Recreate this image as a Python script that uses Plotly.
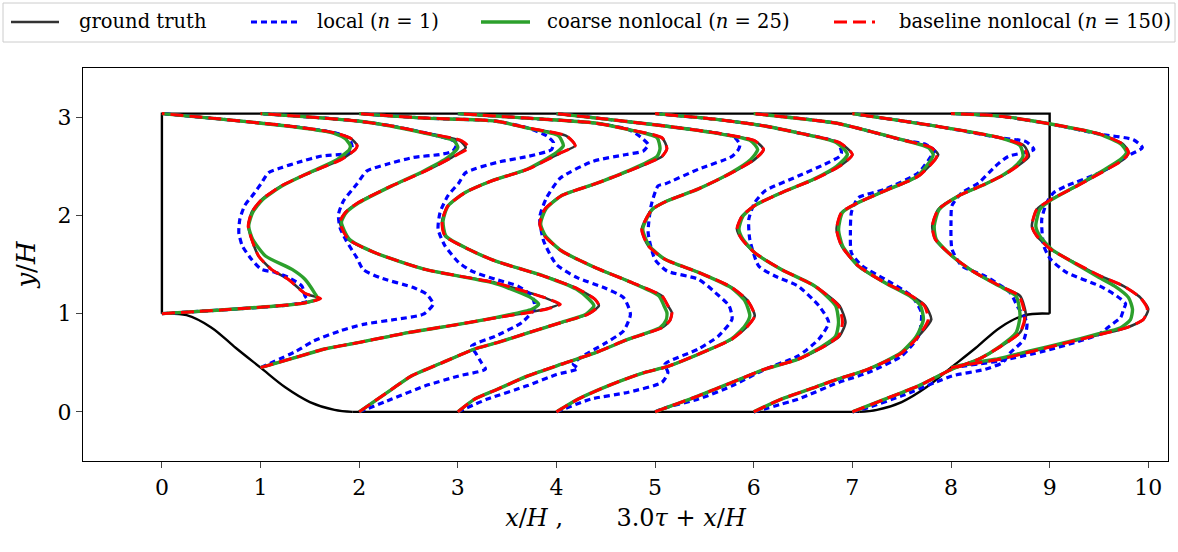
import plotly.graph_objects as go
import numpy as np

# ---------------- data ----------------
stations = [0, 1, 2, 3, 4, 5, 6, 7, 8]
top_y = 3.036
hill_x = [0.0, 0.25, 0.5, 0.75, 1.0, 1.25, 1.5, 1.75, 1.93]
hill_y = [1.0, 0.985, 0.86, 0.65, 0.45, 0.25, 0.10, 0.02, 0.0]

# y/H sample heights shared by ground truth, coarse and baseline profiles
profile_y = [
    [1.0, 1.037, 1.088, 1.11, 1.153, 1.207, 1.35, 1.45, 1.587, 1.757, 1.89, 2.03, 2.16, 2.30, 2.40, 2.47, 2.57, 2.67, 2.71, 2.78, 2.83, 2.86, 2.91, 2.98, 3.036],
    [0.45, 0.55, 0.64, 0.705, 0.807, 0.89, 0.96, 1.045, 1.095, 1.163, 1.265, 1.315, 1.45, 1.62, 1.757, 1.93, 2.03, 2.13, 2.30, 2.45, 2.59, 2.69, 2.76, 2.84, 2.91, 2.96, 2.99, 3.036],
    [0.0, 0.23, 0.366, 0.50, 0.64, 0.705, 0.807, 0.91, 0.994, 1.08, 1.146, 1.25, 1.38, 1.536, 1.65, 1.79, 1.94, 2.096, 2.23, 2.35, 2.47, 2.64, 2.71, 2.81, 2.89, 2.96, 2.99, 3.036],
    [0.0, 0.13, 0.23, 0.366, 0.485, 0.60, 0.74, 0.857, 0.93, 1.01, 1.08, 1.18, 1.33, 1.47, 1.64, 1.79, 1.91, 2.06, 2.20, 2.32, 2.45, 2.60, 2.68, 2.79, 2.875, 2.94, 2.99, 3.036],
    [0.0, 0.13, 0.28, 0.40, 0.46, 0.587, 0.74, 0.875, 0.977, 1.13, 1.265, 1.42, 1.553, 1.69, 1.86, 2.06, 2.146, 2.27, 2.435, 2.57, 2.67, 2.76, 2.84, 2.91, 2.98, 3.036],
    [0.0, 0.03, 0.163, 0.30, 0.434, 0.536, 0.67, 0.77, 0.91, 1.08, 1.28, 1.45, 1.62, 1.757, 1.86, 1.99, 2.10, 2.23, 2.37, 2.50, 2.62, 2.74, 2.84, 2.91, 2.98, 3.036],
    [0.0, 0.13, 0.25, 0.333, 0.434, 0.60, 0.77, 0.94, 1.08, 1.18, 1.315, 1.485, 1.69, 1.86, 2.03, 2.13, 2.25, 2.40, 2.57, 2.62, 2.69, 2.77, 2.86, 2.94, 3.036],
    [0.0, 0.13, 0.265, 0.434, 0.536, 0.67, 0.807, 0.977, 1.18, 1.28, 1.42, 1.587, 1.757, 1.89, 2.06, 2.20, 2.32, 2.42, 2.50, 2.60, 2.71, 2.79, 2.91, 3.036],
    [0.45, 0.50, 0.536, 0.62, 0.705, 0.79, 0.857, 0.94, 1.045, 1.163, 1.28, 1.38, 1.52, 1.655, 1.79, 1.89, 2.06, 2.16, 2.30, 2.45, 2.57, 2.64, 2.72, 2.825, 2.93, 3.01, 3.036],
]

# 3.0*tau values (profile offset from the station)
truth_3tau = [
    [0, 0.6, 1.28, 1.45, 1.60, 1.45, 1.28, 1.11, 0.98, 0.91, 0.875, 0.91, 1.01, 1.21, 1.42, 1.585, 1.82, 1.96, 1.98, 1.92, 1.79, 1.65, 1.28, 0.6, 0],
    [0, 0.34, 0.65, 0.99, 1.50, 2.0, 2.4, 2.88, 3.02, 2.88, 2.55, 2.38, 1.67, 1.16, 0.89, 0.805, 0.86, 0.99, 1.33, 1.67, 1.94, 2.08, 2.02, 1.67, 1.33, 0.99, 0.65, 0],
    [0, 0.33, 0.53, 0.84, 1.17, 1.40, 1.72, 2.05, 2.32, 2.43, 2.39, 2.22, 1.88, 1.38, 1.12, 0.87, 0.84, 0.90, 1.07, 1.34, 1.71, 2.05, 2.19, 2.10, 1.71, 1.38, 0.67, 0],
    [0, 0.17, 0.40, 0.71, 1.05, 1.39, 1.73, 2.07, 2.15, 2.17, 2.13, 2.07, 1.73, 1.39, 1.05, 0.88, 0.83, 0.88, 1.05, 1.39, 1.73, 2.07, 2.12, 2.07, 1.73, 1.39, 0.7, 0],
    [0, 0.22, 0.56, 0.89, 1.12, 1.44, 1.78, 1.94, 2.01, 1.94, 1.78, 1.44, 1.10, 0.93, 0.865, 0.97, 1.12, 1.44, 1.78, 2.01, 2.10, 2.01, 1.61, 1.10, 0.5, 0],
    [0, 0.08, 0.44, 0.78, 1.11, 1.45, 1.72, 1.87, 1.93, 1.87, 1.62, 1.28, 1.01, 0.88, 0.83, 0.88, 1.01, 1.28, 1.62, 1.87, 2.0, 1.87, 1.45, 1.11, 0.6, 0],
    [0, 0.28, 0.62, 0.85, 1.16, 1.50, 1.67, 1.80, 1.74, 1.60, 1.33, 1.06, 0.89, 0.84, 0.89, 1.06, 1.33, 1.67, 1.84, 1.87, 1.80, 1.50, 1.16, 0.83, 0],
    [0, 0.33, 0.67, 1.01, 1.28, 1.51, 1.70, 1.76, 1.70, 1.50, 1.24, 1.01, 0.84, 0.81, 0.87, 1.08, 1.35, 1.55, 1.67, 1.79, 1.74, 1.50, 0.84, 0],
    [0, 0.28, 0.50, 0.84, 1.18, 1.52, 1.78, 1.95, 2.0, 1.92, 1.75, 1.52, 1.25, 1.01, 0.87, 0.82, 0.87, 1.01, 1.28, 1.55, 1.75, 1.80, 1.75, 1.52, 1.01, 0.5, 0],
]

baseline_3tau = [
    [0, 0.6, 1.28, 1.46, 1.61, 1.45, 1.28, 1.11, 0.98, 0.91, 0.875, 0.91, 1.01, 1.21, 1.42, 1.585, 1.82, 1.96, 1.98, 1.92, 1.79, 1.65, 1.28, 0.6, 0],
    [0, 0.34, 0.65, 0.99, 1.50, 2.0, 2.4, 2.90, 3.04, 2.88, 2.55, 2.38, 1.67, 1.16, 0.89, 0.805, 0.86, 0.99, 1.33, 1.67, 1.94, 2.11, 2.04, 1.67, 1.33, 0.99, 0.65, 0],
    [0, 0.33, 0.53, 0.84, 1.17, 1.40, 1.72, 2.05, 2.32, 2.43, 2.39, 2.22, 1.88, 1.38, 1.12, 0.87, 0.84, 0.90, 1.07, 1.34, 1.71, 2.05, 2.19, 2.10, 1.71, 1.38, 0.67, 0],
    [0, 0.17, 0.40, 0.71, 1.05, 1.39, 1.73, 2.07, 2.15, 2.17, 2.13, 2.07, 1.73, 1.39, 1.05, 0.88, 0.83, 0.88, 1.05, 1.39, 1.73, 2.07, 2.12, 2.07, 1.73, 1.39, 0.7, 0],
    [0, 0.22, 0.56, 0.89, 1.12, 1.44, 1.78, 1.94, 2.01, 1.94, 1.78, 1.44, 1.10, 0.93, 0.865, 0.97, 1.12, 1.44, 1.78, 2.01, 2.10, 2.01, 1.61, 1.10, 0.5, 0],
    [0, 0.08, 0.44, 0.78, 1.11, 1.45, 1.72, 1.86, 1.90, 1.86, 1.62, 1.28, 1.01, 0.88, 0.83, 0.88, 1.01, 1.28, 1.62, 1.87, 2.0, 1.87, 1.45, 1.11, 0.6, 0],
    [0, 0.28, 0.62, 0.85, 1.16, 1.50, 1.67, 1.77, 1.73, 1.60, 1.33, 1.06, 0.89, 0.84, 0.89, 1.06, 1.33, 1.67, 1.84, 1.86, 1.80, 1.50, 1.16, 0.83, 0],
    [0, 0.33, 0.67, 1.01, 1.28, 1.51, 1.70, 1.75, 1.69, 1.50, 1.24, 1.01, 0.84, 0.81, 0.87, 1.08, 1.35, 1.55, 1.67, 1.77, 1.73, 1.50, 0.84, 0],
    [0, 0.28, 0.50, 0.84, 1.18, 1.52, 1.78, 1.95, 1.99, 1.92, 1.75, 1.52, 1.25, 1.01, 0.87, 0.82, 0.87, 1.01, 1.28, 1.55, 1.75, 1.80, 1.75, 1.52, 1.01, 0.5, 0],
]

coarse_3tau = [
    [0, 0.6, 1.28, 1.45, 1.58, 1.55, 1.45, 1.32, 1.05, 0.92, 0.88, 0.92, 1.02, 1.22, 1.42, 1.57, 1.78, 1.90, 1.91, 1.86, 1.76, 1.63, 1.27, 0.6, 0],
    [0, 0.34, 0.65, 0.99, 1.50, 2.0, 2.38, 2.75, 2.82, 2.74, 2.50, 2.35, 1.67, 1.16, 0.90, 0.82, 0.87, 1.0, 1.33, 1.65, 1.90, 2.0, 1.96, 1.65, 1.32, 0.99, 0.65, 0],
    [0, 0.33, 0.53, 0.84, 1.17, 1.40, 1.72, 2.05, 2.30, 2.38, 2.33, 2.20, 1.88, 1.38, 1.12, 0.88, 0.85, 0.90, 1.07, 1.34, 1.70, 2.0, 2.07, 2.02, 1.70, 1.38, 0.67, 0],
    [0, 0.17, 0.40, 0.71, 1.05, 1.39, 1.73, 2.05, 2.11, 2.12, 2.09, 2.04, 1.73, 1.39, 1.05, 0.89, 0.84, 0.89, 1.05, 1.39, 1.72, 2.02, 2.05, 2.02, 1.72, 1.39, 0.7, 0],
    [0, 0.22, 0.56, 0.89, 1.12, 1.44, 1.77, 1.91, 1.96, 1.91, 1.77, 1.44, 1.10, 0.94, 0.875, 0.97, 1.12, 1.44, 1.77, 1.97, 2.04, 1.97, 1.60, 1.10, 0.5, 0],
    [0, 0.08, 0.44, 0.78, 1.11, 1.45, 1.70, 1.83, 1.86, 1.83, 1.62, 1.28, 1.01, 0.89, 0.85, 0.89, 1.01, 1.28, 1.61, 1.84, 1.95, 1.84, 1.45, 1.11, 0.6, 0],
    [0, 0.28, 0.62, 0.85, 1.16, 1.49, 1.65, 1.72, 1.69, 1.58, 1.33, 1.06, 0.90, 0.86, 0.90, 1.06, 1.33, 1.66, 1.80, 1.82, 1.77, 1.50, 1.16, 0.83, 0],
    [0, 0.33, 0.67, 1.01, 1.28, 1.50, 1.66, 1.70, 1.66, 1.49, 1.24, 1.01, 0.85, 0.83, 0.88, 1.08, 1.35, 1.54, 1.65, 1.73, 1.70, 1.50, 0.84, 0],
    [0, 0.22, 0.45, 0.80, 1.15, 1.48, 1.72, 1.82, 1.84, 1.80, 1.66, 1.48, 1.24, 1.02, 0.90, 0.86, 0.90, 1.02, 1.27, 1.53, 1.72, 1.78, 1.73, 1.51, 1.01, 0.5, 0],
]

# local (n = 1) model has its own sample heights
local_y = [
    [1.0, 1.037, 1.088, 1.13, 1.18, 1.28, 1.37, 1.42, 1.45, 1.55, 1.69, 1.82, 1.96, 2.10, 2.23, 2.33, 2.435, 2.485, 2.54, 2.604, 2.63, 2.68, 2.78, 2.83, 2.86, 2.91, 2.98, 3.036],
    [0.45, 0.62, 0.72, 0.824, 0.89, 0.943, 0.994, 1.096, 1.197, 1.265, 1.366, 1.45, 1.57, 1.74, 1.875, 2.01, 2.146, 2.316, 2.45, 2.52, 2.59, 2.62, 2.655, 2.74, 2.84, 2.91, 2.96, 2.99, 3.036],
    [0.0, 0.13, 0.265, 0.366, 0.434, 0.50, 0.60, 0.67, 0.77, 0.91, 1.06, 1.18, 1.28, 1.35, 1.434, 1.52, 1.69, 1.86, 2.03, 2.20, 2.33, 2.435, 2.54, 2.60, 2.67, 2.74, 2.81, 2.89, 2.96, 2.99, 3.036],
    [0.0, 0.13, 0.265, 0.38, 0.44, 0.485, 0.57, 0.69, 0.824, 0.994, 1.163, 1.265, 1.366, 1.50, 1.74, 1.98, 2.18, 2.38, 2.55, 2.62, 2.655, 2.72, 2.80, 2.875, 2.94, 2.99, 3.036],
    [0.0, 0.13, 0.20, 0.30, 0.40, 0.485, 0.64, 0.77, 0.943, 1.08, 1.214, 1.35, 1.434, 1.55, 1.82, 2.10, 2.30, 2.32, 2.47, 2.60, 2.67, 2.72, 2.80, 2.84, 2.91, 2.98, 3.036],
    [0.0, 0.04, 0.13, 0.265, 0.434, 0.57, 0.74, 0.91, 1.08, 1.28, 1.38, 1.485, 1.757, 1.96, 2.13, 2.25, 2.40, 2.52, 2.60, 2.64, 2.74, 2.84, 2.91, 2.98, 3.036],
    [0.0, 0.13, 0.30, 0.40, 0.57, 0.77, 1.01, 1.18, 1.35, 1.485, 1.62, 1.82, 2.03, 2.18, 2.265, 2.435, 2.62, 2.66, 2.72, 2.77, 2.86, 2.94, 3.036],
    [0.0, 0.044, 0.163, 0.30, 0.366, 0.434, 0.50, 0.60, 0.74, 0.91, 1.08, 1.214, 1.38, 1.485, 1.655, 1.93, 2.10, 2.23, 2.33, 2.50, 2.60, 2.67, 2.75, 2.79, 2.91, 3.036],
    [0.45, 0.52, 0.62, 0.705, 0.79, 0.875, 0.96, 1.045, 1.10, 1.18, 1.28, 1.42, 1.553, 1.69, 1.96, 2.13, 2.23, 2.30, 2.435, 2.60, 2.69, 2.77, 2.825, 2.93, 3.01, 3.036],
]
local_3tau = [
    [0, 0.6, 1.28, 1.48, 1.45, 1.42, 1.28, 1.15, 1.01, 0.91, 0.815, 0.78, 0.79, 0.84, 0.94, 1.01, 1.08, 1.21, 1.383, 1.62, 1.87, 1.93, 1.90, 1.79, 1.65, 1.28, 0.6, 0],
    [0, 0.366, 0.535, 0.805, 1.04, 1.38, 1.65, 1.75, 1.685, 1.55, 1.21, 1.04, 0.975, 0.87, 0.805, 0.79, 0.84, 0.975, 1.076, 1.28, 1.55, 1.82, 1.95, 1.99, 1.67, 1.33, 0.99, 0.65, 0],
    [0, 0.33, 0.67, 1.01, 1.28, 1.24, 1.18, 1.14, 1.38, 1.65, 1.78, 1.75, 1.61, 1.38, 1.14, 1.01, 0.87, 0.80, 0.82, 0.90, 1.01, 1.08, 1.40, 1.71, 1.95, 1.97, 1.90, 1.71, 1.38, 0.67, 0],
    [0, 0.30, 0.70, 1.0, 1.22, 1.17, 1.27, 1.48, 1.68, 1.75, 1.68, 1.48, 1.21, 1.0, 0.87, 0.83, 0.90, 1.04, 1.37, 1.71, 1.88, 1.93, 1.85, 1.73, 1.39, 0.7, 0],
    [0, 0.35, 0.73, 1.07, 1.13, 1.10, 1.44, 1.64, 1.78, 1.75, 1.61, 1.44, 1.12, 1.0, 0.93, 0.96, 1.03, 1.10, 1.44, 1.78, 1.845, 1.86, 1.80, 1.61, 1.10, 0.5, 0],
    [0, 0.10, 0.44, 0.78, 1.116, 1.45, 1.66, 1.76, 1.66, 1.45, 1.22, 1.05, 0.96, 0.95, 1.01, 1.116, 1.45, 1.72, 1.87, 1.89, 1.85, 1.45, 1.11, 0.6, 0],
    [0, 0.45, 0.86, 1.16, 1.50, 1.67, 1.70, 1.60, 1.33, 1.10, 0.99, 0.98, 0.99, 1.06, 1.33, 1.67, 1.81, 1.83, 1.75, 1.50, 1.16, 0.83, 0],
    [0, 0.16, 0.50, 0.84, 1.01, 1.35, 1.52, 1.60, 1.74, 1.77, 1.67, 1.60, 1.35, 1.11, 1.01, 1.0, 1.01, 1.11, 1.28, 1.45, 1.58, 1.84, 1.76, 1.50, 0.84, 0],
    [0, 0.5, 0.95, 1.25, 1.50, 1.61, 1.72, 1.75, 1.77, 1.68, 1.51, 1.17, 1.01, 0.94, 0.92, 0.97, 1.04, 1.17, 1.51, 1.78, 1.94, 1.85, 1.52, 1.01, 0.5, 0],
]

legend_names = ["ground truth", "local (<i>n</i> = 1)",
                "coarse nonlocal (<i>n</i> = 25)", "baseline nonlocal (<i>n</i> = 150)"]
x_ticks = list(range(0, 11))
y_ticks = [0, 1, 2, 3]

# ---------------- figure ----------------
W, H = 1178, 552
ML, MR, MT, MB = 83, 10, 68, 91
PW, PH = W - ML - MR, H - MT - MB


def px2x(px):
    return (px - ML) / PW


def py2y(py):
    return (H - MB - py) / PH


fig = go.Figure()
geo = dict(color="black", width=2.4)
fig.add_trace(go.Scatter(x=hill_x, y=hill_y, mode="lines", line=dict(shape="spline", smoothing=1.0, **geo),
                         showlegend=False, hoverinfo="skip"))
fig.add_trace(go.Scatter(x=[9 - v for v in hill_x], y=hill_y, mode="lines",
                         line=dict(shape="spline", smoothing=1.0, **geo), showlegend=False, hoverinfo="skip"))
fig.add_trace(go.Scatter(x=[0, 0, 9, 9], y=[1, top_y, top_y, 1], mode="lines", line=geo,
                         showlegend=False, hoverinfo="skip"))
fig.add_trace(go.Scatter(x=[hill_x[-1], 9 - hill_x[-1]], y=[0, 0], mode="lines", line=geo,
                         showlegend=False, hoverinfo="skip"))

models = [
    (legend_names[0], None, truth_3tau, dict(color="#333333", width=2.6)),
    (legend_names[1], local_y, local_3tau, dict(color="#0000ff", width=3.2, dash="6px,4px")),
    (legend_names[2], None, coarse_3tau, dict(color="#2ca02c", width=3.4)),
    (legend_names[3], None, baseline_3tau, dict(color="#ff0000", width=3.0, dash="13px,6px")),
]
for k, (name, ys, vals, line) in enumerate(models):
    for i, s in enumerate(stations):
        yy = ys[i] if ys is not None else profile_y[i]
        xx = s + np.array(vals[i])
        fig.add_trace(go.Scatter(x=xx, y=yy, mode="lines", name=name, legendgroup=name,
                                 showlegend=False,
                                 line=dict(shape="spline", smoothing=0.6, **line)))

# legend drawn in paper coordinates (one row, spanning the figure width)
font_family = "DejaVu Serif"
shapes = [dict(type="rect", xref="paper", yref="paper", x0=px2x(3), x1=px2x(1175),
               y0=py2y(42), y1=py2y(3), line=dict(color="#cccccc", width=1), fillcolor="white",
               layer="above")]
annotations = []
sample_x = [(11, 59), (251, 297), (481, 530), (834, 875)]
text_x = [77, 315, 545, 897]
leg_y = py2y(22)
for k, (name, _, _, line) in enumerate(models):
    ln = dict(color=line["color"], width=line["width"])
    if "dash" in line:
        ln["dash"] = line["dash"]
    shapes.append(dict(type="line", xref="paper", yref="paper", x0=px2x(sample_x[k][0]),
                       x1=px2x(sample_x[k][1]), y0=leg_y, y1=leg_y, line=ln, layer="above"))
    annotations.append(dict(text=name, xref="paper", yref="paper", x=px2x(text_x[k]), y=leg_y,
                            xanchor="left", yanchor="middle", showarrow=False,
                            font=dict(size=19.5, family=font_family, color="black")))

fig.update_layout(
    width=W, height=H,
    margin=dict(l=ML, r=MR, t=MT, b=MB, autoexpand=False),
    paper_bgcolor="white", plot_bgcolor="white",
    font=dict(family=font_family, color="black"),
    showlegend=False,
    shapes=shapes, annotations=annotations,
    xaxis=dict(range=[-0.8, 10.2], tickvals=x_ticks, ticks="outside", ticklen=6, tickwidth=1.2,
               showline=True, linecolor="black", linewidth=1.3, mirror=True, showgrid=False,
               zeroline=False, tickfont=dict(size=22),
               title=dict(text="<i>x</i>/<i>H</i> ,       3.0<i>τ</i> + <i>x</i>/<i>H</i>",
                          font=dict(size=24), standoff=10)),
    yaxis=dict(range=[-0.5, 3.5], tickvals=y_ticks, ticks="outside", ticklen=6, tickwidth=1.2,
               showline=True, linecolor="black", linewidth=1.3, mirror=True, showgrid=False,
               zeroline=False, tickfont=dict(size=22),
               title=dict(text="<i>y</i>/<i>H</i>", font=dict(size=26), standoff=14)),
)
fig.write_html("out.html")
